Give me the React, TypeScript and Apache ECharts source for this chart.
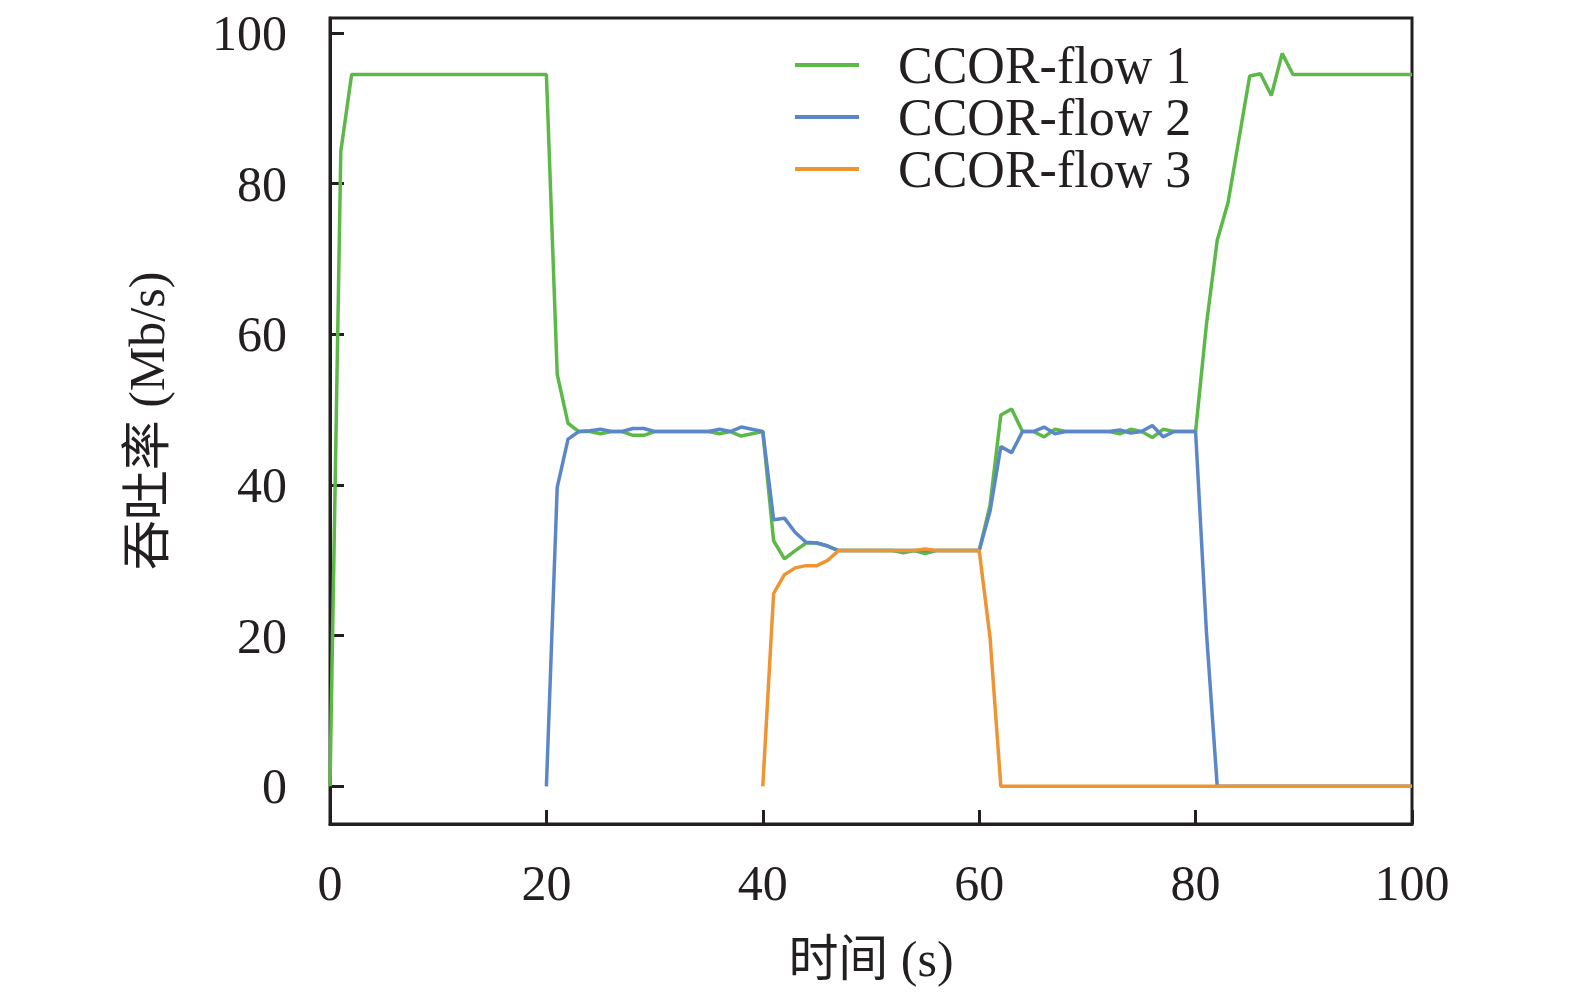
import { useEffect, useRef } from "react";
import * as echarts from "echarts";

// sampled once per second; each flow starts at its own time
const FLOW1_START = 0;
const FLOW1 = [
  0, 84.3, 94.5, 94.5, 94.5, 94.5, 94.5, 94.5, 94.5, 94.5,
  94.5, 94.5, 94.5, 94.5, 94.5, 94.5, 94.5, 94.5, 94.5, 94.5,
  94.5, 54.7, 48.2, 47.1, 47.1, 46.8, 47.1, 47.1, 46.6, 46.6,
  47.1, 47.1, 47.1, 47.1, 47.1, 47.1, 46.8, 47.1, 46.5, 46.8,
  47.1, 32.6, 30.2, 31.3, 32.3, 32.3, 31.9, 31.3, 31.3, 31.3,
  31.3, 31.3, 31.3, 31.0, 31.3, 30.9, 31.3, 31.3, 31.3, 31.3,
  31.3, 37.3, 49.3, 50.1, 47.1, 47.1, 46.4, 47.4, 47.1, 47.1,
  47.1, 47.1, 47.1, 46.8, 47.4, 47.1, 46.3, 47.4, 47.1, 47.1,
  47.1, 61.3, 72.5, 77.5, 85.9, 94.3, 94.6, 91.7, 97.3, 94.5,
  94.5, 94.5, 94.5, 94.5, 94.5, 94.5, 94.5, 94.5, 94.5, 94.5,
  94.5,
];

const FLOW2_START = 20;
const FLOW2 = [
  0, 39.7, 46.1, 47.1, 47.2, 47.4, 47.1, 47.1, 47.5, 47.5,
  47.1, 47.1, 47.1, 47.1, 47.1, 47.1, 47.4, 47.1, 47.7, 47.4,
  47.1, 35.4, 35.6, 33.7, 32.4, 32.3, 31.9, 31.3, 31.3, 31.3,
  31.3, 31.3, 31.3, 31.3, 31.3, 31.3, 31.3, 31.3, 31.3, 31.3,
  31.3, 36.5, 45.1, 44.3, 47.1, 47.1, 47.7, 46.8, 47.1, 47.1,
  47.1, 47.1, 47.1, 47.3, 46.9, 47.1, 47.9, 46.4, 47.1, 47.1,
  47.1, 20.5, 0, 0, 0, 0, 0, 0, 0, 0,
  0, 0, 0, 0, 0, 0, 0, 0, 0, 0,
  0,
];

const FLOW3_START = 40;
const FLOW3 = [
  0, 25.6, 28.1, 29.0, 29.3, 29.3, 30.0, 31.3, 31.3, 31.3,
  31.3, 31.3, 31.3, 31.3, 31.3, 31.5, 31.3, 31.3, 31.3, 31.3,
  31.3, 19.8, 0, 0, 0, 0, 0, 0, 0, 0,
  0, 0, 0, 0, 0, 0, 0, 0, 0, 0,
  0, 0, 0, 0, 0, 0, 0, 0, 0, 0,
  0, 0, 0, 0, 0, 0, 0, 0, 0, 0,
  0,
];

const SERIES_NAMES = ["CCOR-flow 1", "CCOR-flow 2", "CCOR-flow 3"];
const COLORS = ["#5cb947", "#5b87c9", "#ef9432"];

const INK = "#231f20";
const FONT = "'Liberation Serif', 'Noto Sans CJK SC', serif";

const toPoints = (start: number, values: number[]) =>
  values.map((v, i) => [start + i, v]);

export default function App() {
  const chartRef = useRef<HTMLDivElement>(null);

  useEffect(() => {
    if (!chartRef.current) return;
    document.body.style.margin = "0";
    const chart = echarts.init(chartRef.current, undefined, { renderer: "svg" });

    const flows = [
      toPoints(FLOW1_START, FLOW1),
      toPoints(FLOW2_START, FLOW2),
      toPoints(FLOW3_START, FLOW3),
    ];

    chart.setOption({
      animation: false,
      backgroundColor: "#ffffff",
      grid: {
        left: 330,
        right: 163,
        top: 18,
        bottom: 178,
        show: true,
        borderColor: INK,
        borderWidth: 3,
        backgroundColor: "transparent",
      },
      legend: {
        orient: "vertical",
        left: 790,
        top: 34,
        icon: "rect",
        itemWidth: 64,
        itemHeight: 4,
        itemGap: 0,
        data: SERIES_NAMES,
        textStyle: {
          color: INK,
          fontFamily: FONT,
          fontSize: 52,
          lineHeight: 52,
          padding: [0, 0, 0, 34],
        },
      },
      xAxis: {
        type: "value",
        min: 0,
        max: 100,
        interval: 20,
        name: "时间 (s)",
        nameLocation: "middle",
        nameGap: 110,
        nameTextStyle: { color: INK, fontFamily: FONT, fontSize: 50 },
        axisLine: { show: true, onZero: false, lineStyle: { color: INK, width: 3 } },
        axisTick: { show: true, inside: true, length: 14, lineStyle: { color: INK, width: 3 } },
        axisLabel: { color: INK, fontFamily: FONT, fontSize: 50, margin: 34 },
        splitLine: { show: false },
      },
      yAxis: {
        type: "value",
        min: -5,
        max: 102,
        splitNumber: 5,
        name: "吞吐率 (Mb/s)",
        nameLocation: "middle",
        nameGap: 158,
        nameRotate: 90,
        nameTextStyle: { color: INK, fontFamily: FONT, fontSize: 50 },
        axisLine: { show: true, onZero: false, lineStyle: { color: INK, width: 3 } },
        axisTick: { show: true, inside: true, length: 14, lineStyle: { color: INK, width: 3 } },
        axisLabel: {
          color: INK,
          fontFamily: FONT,
          fontSize: 50,
          margin: 43,
          showMinLabel: false,
          showMaxLabel: false,
        },
        splitLine: { show: false },
      },
      series: SERIES_NAMES.map((name, i) => ({
        name,
        type: "line",
        data: flows[i],
        showSymbol: false,
        symbol: "none",
        color: COLORS[i],
        lineStyle: { color: COLORS[i], width: 3.5 },
      })),
    });

    return () => chart.dispose();
  }, []);

  return <div ref={chartRef} style={{ width: 1575, height: 1002 }} />;
}
